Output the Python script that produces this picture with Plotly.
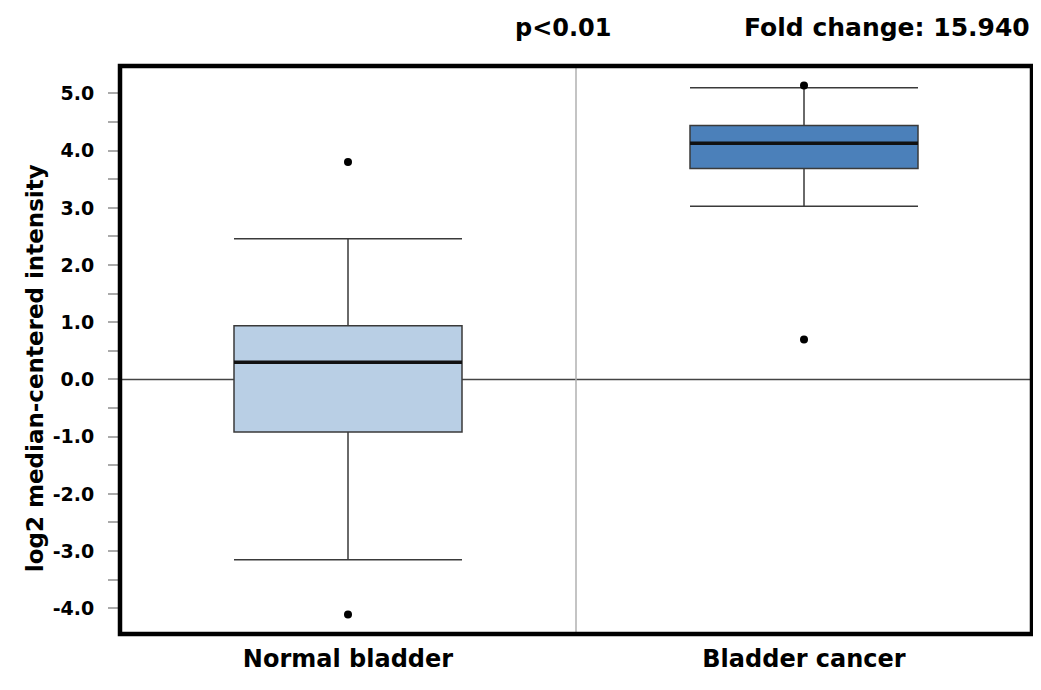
import plotly.graph_objects as go

categories = ["Normal bladder", "Bladder cancer"]
q1 = [-0.92, 3.69]
median = [0.30, 4.13]
q3 = [0.94, 4.44]
lower_whisker = [-3.15, 3.03]
upper_whisker = [2.46, 5.10]
outlier_cat = [0, 0, 1, 1]
outlier_val = [3.80, -4.11, 5.14, 0.70]
fill_colors = ["#b9cfe5", "#4b80ba"]
annot_p = "p<0.01"
annot_fc = "Fold change: 15.940"
y_title = "log2 median-centered intensity"
ytick_vals = [-4, -3, -2, -1, 0, 1, 2, 3, 4, 5]

FONT = "DejaVu Sans"
BOX_HALF = 0.25
xpos = list(range(len(categories)))

fig = go.Figure()

for i, cat in enumerate(categories):
    fig.add_trace(go.Box(
        x=[xpos[i]], q1=[q1[i]], median=[median[i]], q3=[q3[i]],
        lowerfence=[lower_whisker[i]], upperfence=[upper_whisker[i]],
        fillcolor=fill_colors[i], line=dict(color="#3a3a3a", width=1.5),
        width=2 * BOX_HALF, whiskerwidth=1, boxpoints=False,
        showlegend=False, hoverinfo="skip",
    ))
    fig.add_trace(go.Scatter(
        x=[xpos[i] - BOX_HALF, xpos[i] + BOX_HALF], y=[median[i], median[i]],
        mode="lines", line=dict(color="#111111", width=3.5),
        showlegend=False, hoverinfo="skip",
    ))

fig.add_trace(go.Scatter(
    x=outlier_cat, y=outlier_val, mode="markers",
    marker=dict(color="black", size=8), showlegend=False,
))

# zero line and category divider
fig.add_hline(y=0, line=dict(color="#444444", width=1.5), layer="below")
fig.add_vline(x=0.5, line=dict(color="#b0b0b0", width=1.5), layer="below")

# thick frame
fig.add_shape(type="rect", xref="paper", yref="paper", x0=0, x1=1, y0=0, y1=1,
              line=dict(color="black", width=4.5))

fig.add_annotation(text=f"<b>{annot_p}</b>", xref="paper", yref="paper", x=0.486, y=1.0,
                   yshift=22, xanchor="center", yanchor="bottom", showarrow=False,
                   font=dict(size=24, color="black", family=FONT))
fig.add_annotation(text=f"<b>{annot_fc}</b>", xref="paper", yref="paper", x=1.0, y=1.0,
                   yshift=22, xanchor="right", yanchor="bottom", showarrow=False,
                   font=dict(size=25, color="black", family=FONT))
fig.add_annotation(text=f"<b>{y_title}</b>", xref="paper", yref="paper", x=0, y=0.468,
                   xshift=-85, xanchor="center", yanchor="middle", showarrow=False,
                   textangle=-90, font=dict(size=23, color="black", family=FONT))

fig.update_layout(
    width=1025, height=674,
    margin=dict(l=112, r=1, t=58, b=48),
    plot_bgcolor="white", paper_bgcolor="white",
    font=dict(family=FONT, color="black"),
    xaxis=dict(
        range=[-0.5, 1.5], tickvals=xpos, ticktext=[f"<b>{c}</b>" for c in categories],
        tickfont=dict(size=24), showgrid=False, zeroline=False, ticks="", ticklen=0,
        ticklabelstandoff=8,
    ),
    yaxis=dict(
        range=[-4.45, 5.48], tickvals=ytick_vals,
        ticktext=[f"<b>{v:.1f}</b>" for v in ytick_vals],
        tickfont=dict(size=19), ticks="outside", ticklen=11, tickcolor="#aaaaaa",
        tickwidth=1.5, ticklabelstandoff=10,
        minor=dict(dtick=0.5, tick0=0, ticks="outside", ticklen=11, tickcolor="#aaaaaa", tickwidth=1.5),
        showgrid=False, zeroline=False,
    ),
)

fig.write_html("out.html")
